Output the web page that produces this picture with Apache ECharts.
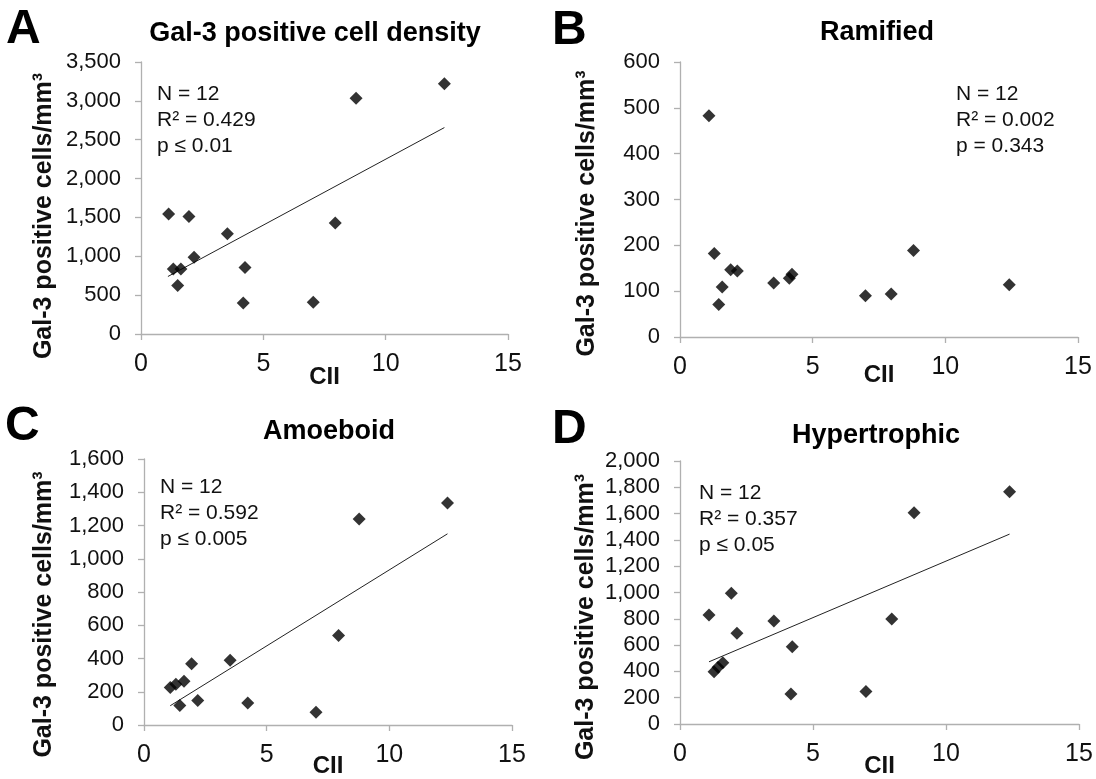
<!DOCTYPE html>
<html>
<head>
<meta charset="utf-8">
<script src="https://cdn.jsdelivr.net/npm/echarts@6/dist/echarts.min.js"></script>
<style>
html, body { margin: 0; padding: 0; background: #fff; }
#chart { width: 1096px; height: 779px; }
</style>
</head>
<body>
<div id="chart"></div>
<script>
const FONT = '"Liberation Sans", Arial, sans-serif';
const INK = '#111';
const AXIS = '#b0b0b0';

// panel A - all Gal-3 positive cells
const ciiA = [1.13, 1.32, 1.50, 1.63, 1.96, 2.17, 3.53, 4.18, 4.25, 7.04, 7.94, 8.79, 12.40];
const densA = [1545, 835, 624, 835, 1511, 986, 1291, 400, 857, 409, 1429, 3035, 3220];
const trendA = [[1.10, 740], [12.40, 2656]];

// panel B - ramified
const ciiB = [1.09, 1.29, 1.46, 1.59, 1.91, 2.16, 3.53, 4.12, 4.22, 6.99, 7.96, 8.80, 12.41];
const densB = [483, 182, 71, 109, 147, 144, 118, 128, 137, 90, 94, 189, 114];

// panel C - amoeboid
const ciiC = [1.07, 1.30, 1.46, 1.63, 1.94, 2.19, 3.51, 4.23, 7.01, 7.93, 8.77, 12.37];
const densC = [225, 245, 118, 263, 369, 147, 389, 132, 76, 538, 1239, 1335];
const trendC = [[1.07, 116], [12.37, 1150]];

// panel D - hypertrophic
const ciiD = [1.09, 1.28, 1.43, 1.61, 1.93, 2.14, 3.53, 4.17, 4.22, 6.99, 7.96, 8.80, 12.39];
const densD = [829, 397, 432, 465, 994, 690, 784, 228, 587, 248, 799, 1606, 1767];
const trendD = [[1.09, 473], [12.39, 1444]];

const letters = ['A', 'B', 'C', 'D'];
const titles = ['Gal-3 positive cell density', 'Ramified', 'Amoeboid', 'Hypertrophic'];
const stats = [
    ['N = 12', 'R² = 0.429', 'p ≤ 0.01'],
    ['N = 12', 'R² = 0.002', 'p = 0.343'],
    ['N = 12', 'R² = 0.592', 'p ≤ 0.005'],
    ['N = 12', 'R² = 0.357', 'p ≤ 0.05']
];
const yMax = [3500, 600, 1600, 2000];
const yStep = [500, 100, 200, 200];

const panels = [
    {x: ciiA, y: densA, trend: trendA},
    {x: ciiB, y: densB, trend: null},
    {x: ciiC, y: densC, trend: trendC},
    {x: ciiD, y: densD, trend: trendD}
];

// layout (pixels)
const grids = [
    {left: 141, top: 62, width: 367, height: 272},
    {left: 680, top: 62, width: 398, height: 275},
    {left: 144, top: 459, width: 368, height: 268},
    {left: 680, top: 461, width: 399, height: 264}
];
const yNameGap = [84, 80, 87, 81];
const yNameShift = [36, 28, 45, 49];
const xNameGap = [31, 26, 29, 30];
const titlePos = [[315, 34], [877, 33], [329, 432], [876, 436]];
const letterPos = [[6, 30], [552, 31], [5, 427], [552, 430]];
const statPos = [[157, 94], [956, 94], [160, 487], [699, 493]];

function fmt(v) {
    return v.toLocaleString('en-US');
}

const xAxis = grids.map(function (g, i) {
    return {
        gridIndex: i,
        type: 'value',
        min: 0,
        max: 15,
        interval: 5,
        name: 'CII',
        nameLocation: 'middle',
        nameGap: xNameGap[i],
        nameMoveOverlap: false,
        nameTextStyle: {fontFamily: FONT, fontSize: 24, fontWeight: 'bold', color: INK},
        axisLine: {lineStyle: {color: AXIS, width: 1.3}},
        axisTick: {show: true, inside: false, length: 6, lineStyle: {color: AXIS, width: 1.3}},
        axisLabel: {fontFamily: FONT, fontSize: 25, color: INK, margin: 18},
        splitLine: {show: false}
    };
});

const yAxis = grids.map(function (g, i) {
    return {
        gridIndex: i,
        type: 'value',
        min: 0,
        max: yMax[i],
        interval: yStep[i],
        name: 'Gal-3 positive cells/mm³',
        nameLocation: 'middle',
        nameGap: yNameGap[i],
        nameMoveOverlap: false,
        nameTextStyle: {
            fontFamily: FONT, fontSize: 25, fontWeight: 'bold', color: INK,
            padding: [0, yNameShift[i], 0, 0]
        },
        axisLine: {show: true, lineStyle: {color: AXIS, width: 1.3}},
        axisTick: {show: true, inside: false, length: 6, lineStyle: {color: AXIS, width: 1.3}},
        axisLabel: {fontFamily: FONT, fontSize: 22, color: INK, margin: 20, formatter: fmt},
        splitLine: {show: false}
    };
});

const series = [];
panels.forEach(function (p, i) {
    series.push({
        type: 'scatter',
        xAxisIndex: i,
        yAxisIndex: i,
        symbol: 'diamond',
        symbolSize: 13,
        itemStyle: {color: '#000'},
        data: p.x.map(function (v, k) { return [v, p.y[k]]; }),
        z: 3
    });
    if (p.trend) {
        series.push({
            type: 'line',
            xAxisIndex: i,
            yAxisIndex: i,
            symbol: 'none',
            lineStyle: {color: '#222', width: 1},
            data: p.trend,
            z: 2
        });
    }
});

const graphic = [];
letters.forEach(function (l, i) {
    graphic.push({
        type: 'text', x: letterPos[i][0], y: letterPos[i][1],
        style: {text: l, fontFamily: FONT, fontSize: 48, fontWeight: 'bold', fill: '#000',
            align: 'left', verticalAlign: 'middle'}
    });
    graphic.push({
        type: 'text', x: titlePos[i][0], y: titlePos[i][1],
        style: {text: titles[i], fontFamily: FONT, fontSize: 27, fontWeight: 'bold', fill: '#000',
            align: 'center', verticalAlign: 'middle'}
    });
    stats[i].forEach(function (line, k) {
        graphic.push({
            type: 'text', x: statPos[i][0], y: statPos[i][1] + k * 26,
            style: {text: line, fontFamily: FONT, fontSize: 21, fill: INK,
                align: 'left', verticalAlign: 'middle'}
        });
    });
});

const chart = echarts.init(document.getElementById('chart'));
chart.setOption({
    animation: false,
    backgroundColor: '#fff',
    grid: grids,
    xAxis: xAxis,
    yAxis: yAxis,
    series: series,
    graphic: graphic
});
</script>
</body>
</html>
